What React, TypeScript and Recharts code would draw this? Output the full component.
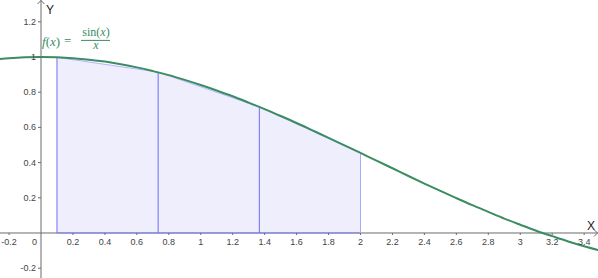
import React from 'react';
import { ComposedChart, Line, Area, XAxis, YAxis, ReferenceLine, ReferenceDot } from 'recharts';

// Curve f(x) = sin(x)/x
const curveX = [-0.3, -0.2, -0.1, 0, 0.1, 0.2, 0.3, 0.4, 0.5, 0.6, 0.7, 0.8, 0.9, 1.0, 1.1, 1.2, 1.3, 1.4, 1.5, 1.6, 1.7, 1.8, 1.9, 2.0, 2.1, 2.2, 2.3, 2.4, 2.5, 2.6, 2.7, 2.8, 2.9, 3.0, 3.1, 3.2, 3.3, 3.4, 3.5];
const curveY = [0.985, 0.993, 0.998, 1, 0.998, 0.993, 0.985, 0.974, 0.959, 0.941, 0.920, 0.897, 0.870, 0.841, 0.810, 0.777, 0.741, 0.704, 0.665, 0.625, 0.583, 0.541, 0.498, 0.455, 0.411, 0.368, 0.324, 0.281, 0.239, 0.198, 0.158, 0.120, 0.082, 0.047, 0.013, -0.018, -0.048, -0.075, -0.100];

// Trapezoid strips
const stripX = [0.1, 0.7333, 1.3667, 2];
const stripY = [0.998, 0.914, 0.716, 0.455];
const stripEdgeColors = ['#6e6eff', '#6e6eff', '#6e6eff', '#a9a9ff'];

// Tick labels
const xTicks = [-0.2, 0.2, 0.4, 0.6, 0.8, 1, 1.2, 1.4, 1.6, 1.8, 2, 2.2, 2.4, 2.6, 2.8, 3, 3.2, 3.4];
const yTicks = [-0.2, 0.2, 0.4, 0.6, 0.8, 1, 1.2];

const X_DOMAIN: [number, number] = [-0.2567, 3.4867];
const Y_DOMAIN: [number, number] = [-0.2557, 1.3239];

const AXIS = '#6b6b6b';
const LABEL = '#444';
const GREEN = '#3b8c61';
const FONT = '"Liberation Sans", Arial, sans-serif';

type Row = { x: number; f?: number; t?: number };
const rowMap = new Map<number, Row>();
curveX.forEach((x, i) => rowMap.set(x, { x, f: curveY[i] }));
stripX.forEach((x, i) => {
  const r = rowMap.get(x) || { x };
  r.t = stripY[i];
  rowMap.set(x, r);
});
const data: Row[] = Array.from(rowMap.values()).sort((a, b) => a.x - b.x);

const fmt = (v: number) => String(v);

const XTick = (label: string) => (p: any) => (
  <g>
    <line x1={p.cx} y1={p.cy} x2={p.cx} y2={p.cy + 2} stroke={AXIS} strokeWidth={1} />
    <text x={p.cx} y={p.cy + 12} textAnchor="middle" fontSize={9} fontFamily={FONT} fill={LABEL}>{label}</text>
  </g>
);

const YTick = (label: string) => (p: any) => (
  <g>
    <line x1={p.cx - 3} y1={p.cy} x2={p.cx} y2={p.cy} stroke={AXIS} strokeWidth={1} />
    <text x={p.cx - 5} y={p.cy + 3} textAnchor="end" fontSize={9} fontFamily={FONT} fill={LABEL}>{label}</text>
  </g>
);

const OriginLabel = (p: any) => (
  <text x={p.cx - 4} y={p.cy + 12} textAnchor="end" fontSize={9} fontFamily={FONT} fill={LABEL}>0</text>
);

const XAxisShape = (p: any) => {
  const y = p.y1;
  const x1 = Math.min(p.x1, p.x2);
  const x2 = Math.max(p.x1, p.x2);
  return (
    <g>
      <line x1={x1} y1={y} x2={x2} y2={y} stroke={AXIS} strokeWidth={1} />
      <path d={`M${x2 - 4},${y - 3.5} L${x2 - 0.5},${y} L${x2 - 4},${y + 3.5}`} fill="none" stroke={AXIS} strokeWidth={1} />
      <text x={x2 - 11} y={y - 3} fontSize={12} fontFamily={FONT} fill="#222">X</text>
    </g>
  );
};

const YAxisShape = (p: any) => {
  const x = p.x1;
  const y1 = Math.min(p.y1, p.y2);
  const y2 = Math.max(p.y1, p.y2);
  return (
    <g>
      <line x1={x} y1={y1} x2={x} y2={y2} stroke={AXIS} strokeWidth={1} />
      <path d={`M${x - 3.5},${y1 + 4} L${x},${y1 + 0.5} L${x + 3.5},${y1 + 4}`} fill="none" stroke={AXIS} strokeWidth={1} />
      <text x={x + 5} y={y1 + 14} fontSize={12} fontFamily={FONT} fill="#222">Y</text>
    </g>
  );
};

const Formula = (p: any) => {
  const x0 = p.cx + 1;
  const y0 = p.cy;
  const serif = '"Liberation Serif", "DejaVu Serif", serif';
  return (
    <g fill={GREEN} fontFamily={serif}>
      <text x={x0} y={y0 + 7} fontSize={13}>
        <tspan fontStyle="italic">f</tspan>
        <tspan>(</tspan>
        <tspan fontStyle="italic">x</tspan>
        <tspan>)</tspan>
      </text>
      <text x={x0 + 22} y={y0 + 6} fontSize={13}>=</text>
      <text x={x0 + 54} y={y0 - 3} fontSize={12} textAnchor="middle">
        <tspan>sin(</tspan>
        <tspan fontStyle="italic">x</tspan>
        <tspan>)</tspan>
      </text>
      <line x1={x0 + 39} y1={y0 + 1} x2={x0 + 68} y2={y0 + 1} stroke={GREEN} strokeWidth={1} />
      <text x={x0 + 54} y={y0 + 10} fontSize={12} textAnchor="middle" fontStyle="italic">x</text>
    </g>
  );
};

export default function App() {
  return (
    <div style={{ position: 'absolute', left: 0, top: 0, width: 598, height: 278, background: '#fff' }}>
      <ComposedChart width={598} height={278} data={data} margin={{ top: 0, right: 0, bottom: 0, left: 0 }}>
        <XAxis dataKey="x" type="number" domain={X_DOMAIN} allowDataOverflow hide />
        <YAxis type="number" domain={Y_DOMAIN} allowDataOverflow hide />

        <ReferenceLine y={0} shape={XAxisShape} ifOverflow="visible" />
        <ReferenceLine x={0} shape={YAxisShape} ifOverflow="visible" />
        {xTicks.map((t) => (
          <ReferenceDot key={`xt${t}`} x={t} y={0} r={0} shape={XTick(fmt(t))} ifOverflow="visible" />
        ))}
        {yTicks.map((t) => (
          <ReferenceDot key={`yt${t}`} x={0} y={t} r={0} shape={YTick(fmt(t))} ifOverflow="visible" />
        ))}
        <ReferenceDot x={0} y={0} r={0} shape={OriginLabel} ifOverflow="visible" />

        <Area
          dataKey="t"
          type="linear"
          baseValue={0}
          connectNulls
          fill="#eeeefd"
          fillOpacity={1}
          stroke="#b4b4ff"
          strokeWidth={1}
          isAnimationActive={false}
          dot={false}
          activeDot={false}
        />
        <ReferenceLine
          segment={[{ x: stripX[0], y: 0 }, { x: stripX[stripX.length - 1], y: 0 }]}
          stroke="#8080ff"
          strokeWidth={1}
          ifOverflow="visible"
        />
        {stripX.map((x, i) => (
          <ReferenceLine
            key={`sv${i}`}
            segment={[{ x, y: 0 }, { x, y: stripY[i] }]}
            stroke={stripEdgeColors[i]}
            strokeWidth={1}
            ifOverflow="visible"
          />
        ))}

        <Line
          dataKey="f"
          type="monotone"
          connectNulls
          stroke={GREEN}
          strokeWidth={2}
          dot={false}
          activeDot={false}
          isAnimationActive={false}
        />

        <ReferenceDot x={0} y={1.1} r={0} shape={Formula} ifOverflow="visible" />
      </ComposedChart>
    </div>
  );
}
